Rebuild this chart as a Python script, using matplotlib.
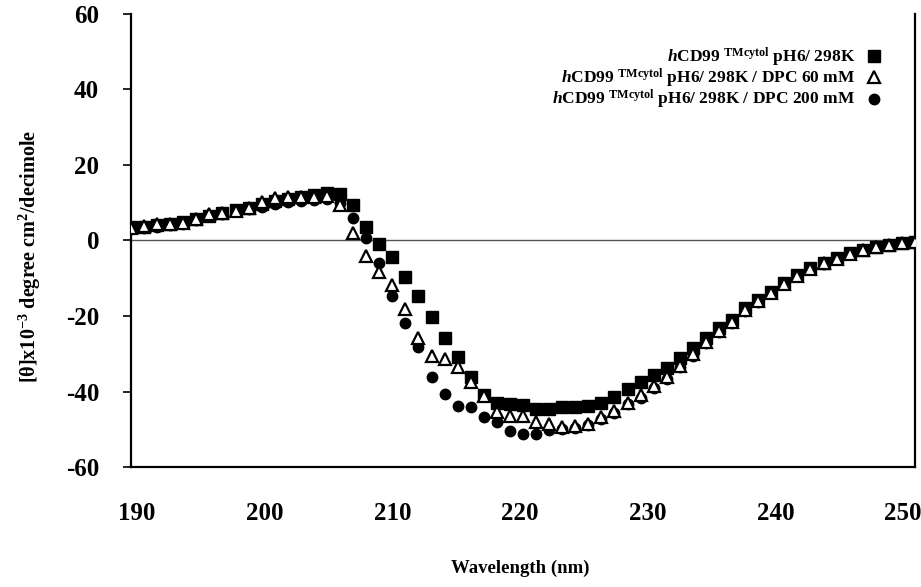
import matplotlib

matplotlib.use("Agg")
import matplotlib.pyplot as plt
import matplotlib.transforms as mtransforms
import numpy as np

plt.rcParams["font.family"] = ["Liberation Serif", "DejaVu Serif"]
plt.rcParams["font.weight"] = "bold"
plt.rcParams["axes.unicode_minus"] = False
plt.rcParams["mathtext.fontset"] = "custom"
plt.rcParams["mathtext.rm"] = "Liberation Serif:bold"
plt.rcParams["mathtext.it"] = "Liberation Serif:italic:bold"
plt.rcParams["mathtext.bf"] = "Liberation Serif:bold"

# wavelength in nm, one point per nm
wavelength = np.arange(190, 251)

# hCD99 TMcytol pH6 / 298K
ellip_buffer = [
    3.5, 3.6, 4.2, 4.5, 4.8, 5.8, 6.6, 7.4, 8.0, 8.6,
    9.6, 10.4, 11.0, 11.6, 12.0, 12.6, 12.4, 9.4, 3.7, -0.9,
    -4.5, -9.6, -14.7, -20.3, -25.9, -30.9, -36.1, -40.9, -43.0, -43.2,
    -43.6, -44.7, -44.7, -44.2, -44.2, -43.9, -43.0, -41.4, -39.4, -37.4,
    -35.6, -33.9, -31.2, -28.6, -25.9, -23.3, -21.1, -18.0, -15.8, -13.6,
    -11.2, -9.1, -7.4, -6.0, -4.7, -3.4, -2.5, -1.6, -1.2, -0.6, -0.3,
]
# + DPC 60 mM
ellip_dpc60 = [
    3.3, 3.8, 4.4, 4.3, 4.6, 5.7, 6.9, 7.2, 7.9, 8.7,
    10.3, 11.3, 11.6, 11.4, 11.5, 11.8, 9.5, 2.0, -4.1, -8.3,
    -11.8, -18.1, -25.9, -30.6, -31.5, -33.4, -37.4, -41.2, -45.3, -46.5,
    -46.5, -48.0, -48.6, -49.3, -49.2, -48.7, -46.7, -45.2, -43.0, -41.0,
    -38.5, -36.2, -33.2, -30.0, -26.8, -24.0, -21.6, -18.5, -16.0, -13.8,
    -11.4, -9.3, -7.6, -6.0, -4.8, -3.5, -2.6, -1.7, -1.2, -0.7, -0.3,
]
# + DPC 200 mM
ellip_dpc200 = [
    3.0, 3.3, 3.7, 4.0, 4.5, 5.5, 6.4, 7.0, 7.7, 8.3,
    9.0, 9.7, 10.1, 10.4, 10.6, 11.0, 10.0, 6.0, 0.6, -5.9,
    -14.7, -21.8, -28.1, -36.1, -40.7, -43.8, -44.0, -46.7, -48.0, -50.4,
    -51.3, -51.3, -50.2, -49.8, -49.6, -49.0, -47.2, -45.6, -43.4, -41.6,
    -39.0, -36.8, -33.6, -30.5, -27.2, -24.3, -21.8, -18.7, -16.2, -14.0,
    -11.5, -9.4, -7.6, -6.1, -4.8, -3.5, -2.6, -1.7, -1.2, -0.7, -0.3,
]

labels = [
    r"$\it{h}$CD99 $^{\rm TMcytol}$ pH6/ 298K",
    r"$\it{h}$CD99 $^{\rm TMcytol}$ pH6/ 298K / DPC 60 mM",
    r"$\it{h}$CD99 $^{\rm TMcytol}$ pH6/ 298K / DPC 200 mM",
]
x_ticks = [190, 200, 210, 220, 230, 240, 250]
y_ticks = [60, 40, 20, 0, -20, -40, -60]

fig = plt.figure(figsize=(9.21, 5.87), dpi=100)
ax = fig.add_axes([0.1422, 0.2044, 0.8513, 0.7718])

ax.axhline(0, color="#555555", linewidth=1.0, zorder=1)
sq = ax.plot(wavelength, ellip_buffer, "s", color="black", markersize=8.5, zorder=3)[0]
ci = ax.plot(wavelength, ellip_dpc200, "o", color="black", markersize=7.5, zorder=4)[0]
tr = ax.plot(wavelength, ellip_dpc60, "^", markerfacecolor="white", markeredgecolor="black",
             markeredgewidth=1.6, markersize=8, zorder=5)[0]

ax.set_xlim(190, 250)
ax.set_ylim(-60, 60)
ax.set_xticks(x_ticks)
ax.set_yticks(y_ticks)
ax.tick_params(axis="x", length=0, pad=25, labelsize=18)
ax.tick_params(axis="y", direction="out", length=6, width=1.2, pad=17, labelsize=18)
for lab in ax.get_xticklabels() + ax.get_yticklabels():
    lab.set_fontweight("bold")
# the original's category labels sit a little closer together than the data
for i, lab in enumerate(ax.get_xticklabels()):
    shift = (6 - 3 * i) / 72.0 * 0.72
    lab.set_transform(lab.get_transform()
                      + mtransforms.ScaledTranslation(shift, 0, fig.dpi_scale_trans))

ax.spines["top"].set_visible(False)
for s in ("left", "bottom", "right"):
    ax.spines[s].set_linewidth(1.6)
    ax.spines[s].set_color("black")

ax.legend([sq, tr, ci], labels, loc="upper right", bbox_to_anchor=(0.968, 0.945),
          frameon=False, markerfirst=False, fontsize=12.5, labelspacing=-0.12,
          handletextpad=0.6, handlelength=1.0, borderaxespad=0.0)

fig.text(30 / 921, 1 - 256 / 587, r"[θ]x10$^{-3}$ degree cm$^{2}$/decimole",
         rotation=90, ha="center", va="center", fontsize=14.5, fontweight="bold")
fig.text(520 / 921, 1 - 568 / 587, "Wavelength (nm)", ha="center", va="center",
         fontsize=13.5, fontweight="bold")

fig.savefig("out.png", dpi=100)
plt.close(fig)
